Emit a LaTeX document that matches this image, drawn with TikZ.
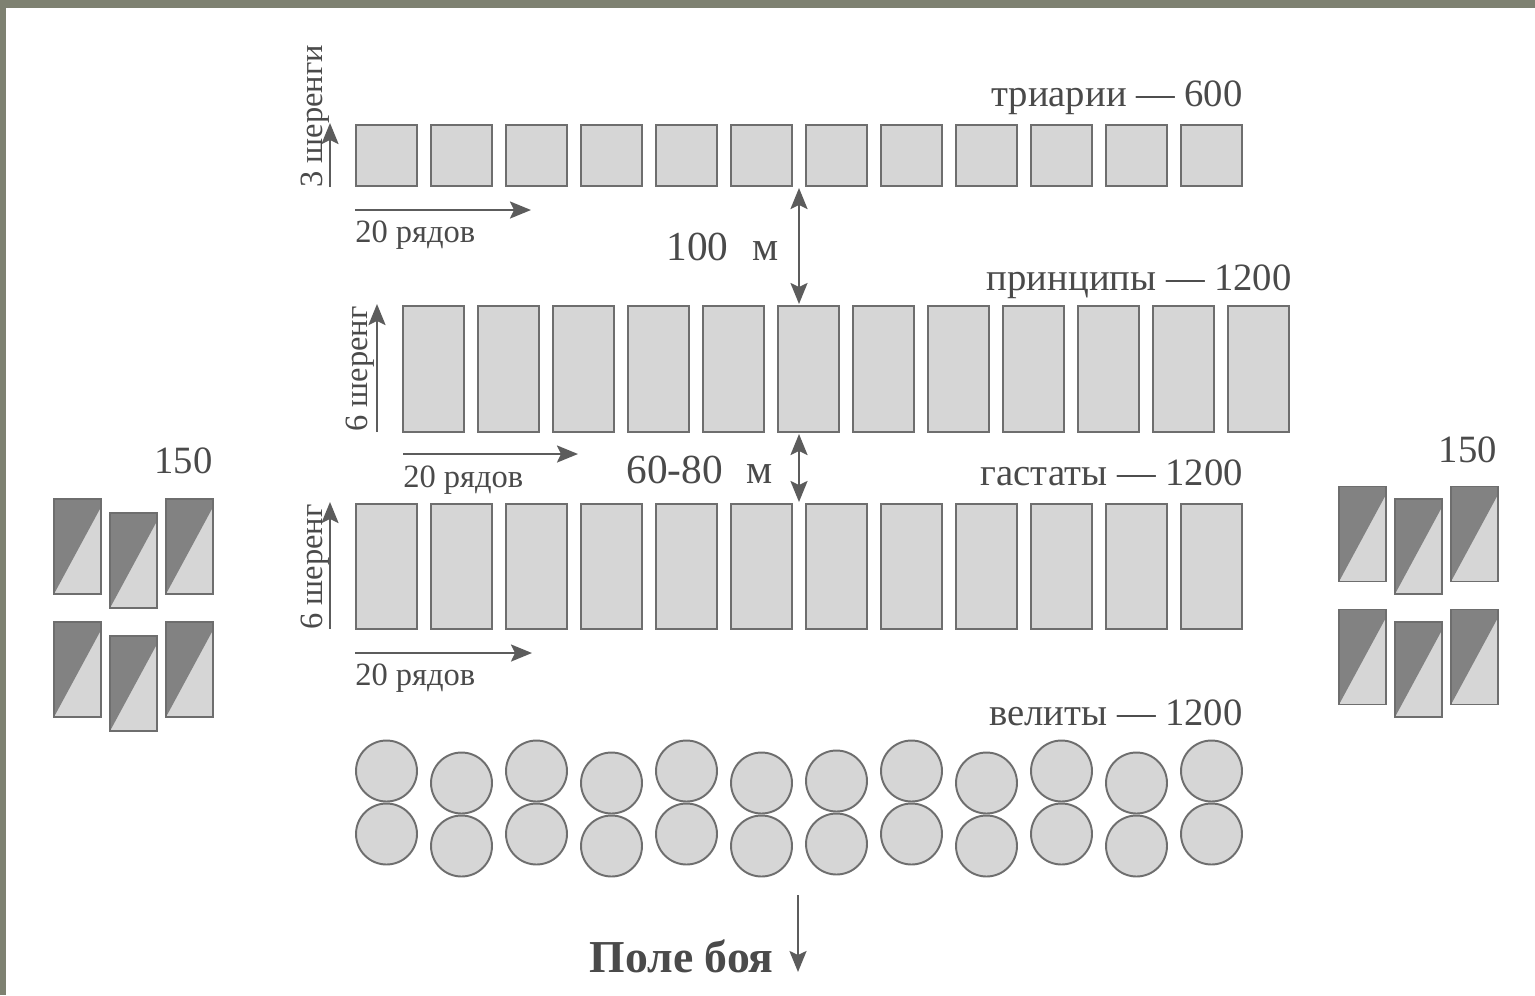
\documentclass[tikz,border=0pt]{standalone}
\usepackage{fontspec}
\setmainfont{Liberation Serif}
\usetikzlibrary{arrows.meta}
\usetikzlibrary{positioning}
\definecolor{boxfill}{HTML}{D6D6D6}
\definecolor{boxline}{HTML}{6E6E6E}
\definecolor{cavdark}{HTML}{828282}
\definecolor{framegray}{HTML}{7E8171}
\definecolor{inkgray}{HTML}{4A4A4A}
\definecolor{arrowgray}{HTML}{5C5C5C}

\begin{document}
\begin{tikzpicture}[x=0.02cm,y=-0.02cm,>={Stealth[length=0.42cm,width=0.34cm,inset=0.08cm]},
  unit/.style={rectangle,draw=boxline,fill=boxfill,line width=1.1pt,inner sep=0pt,minimum width=1.23cm},
  velit/.style={circle,draw=boxline,fill=boxfill,line width=1.1pt,inner sep=0pt,minimum size=1.22cm},
  horse/.style={rectangle,draw=boxline,fill=boxfill,line width=1.1pt,inner sep=0pt,
    minimum width=0.94cm,minimum height=1.9cm,
    path picture={\fill[cavdark] (path picture bounding box.south west) -- (path picture bounding box.north west)
      -- (path picture bounding box.north east) -- ([yshift=-0.16cm]path picture bounding box.north east) -- cycle;}},
  title/.style={font=\fontsize{22}{26}\selectfont,text=inkgray,inner sep=0pt,anchor=base east},
  dist/.style={font=\fontsize{23.5}{28}\selectfont,text=inkgray,inner sep=0pt,anchor=base west},
  small/.style={font=\fontsize{18.5}{22}\selectfont,text=inkgray,inner sep=0pt,anchor=base west},
  arr/.style={->,draw=arrowgray,fill=arrowgray,line width=1.3pt}]

  % frame
  \fill[framegray] (0,0) rectangle (1535,995);
  \fill[white] (6,8) rectangle (1535,995);
  \useasboundingbox (0,0) rectangle (1535,995);

  % triarii
  \foreach \c in {1,...,12}{
    \node[unit,minimum height=1.23cm] (t\c) at ({311.5+75*\c},155.5) {};
  }
  % principes
  \foreach \c in {1,...,12}{
    \node[unit,minimum height=2.52cm] (p\c) at ({358.5+75*\c},369) {};
  }
  % hastati
  \foreach \c in {1,...,12}{
    \node[unit,minimum height=2.5cm] (h\c) at ({311.5+75*\c},566.5) {};
  }
  % velites
  \foreach \c/\dy in {1/0,2/12,3/0,4/12,5/0,6/12,7/10,8/0,9/12,10/0,11/12,12/0}{
    \node[velit] (vu\c) at ({311.5+75*\c},{771+\dy}) {};
    \node[velit] (vd\c) at ({311.5+75*\c},{834+\dy}) {};
  }

  % cavalry
  \foreach \x/\dy [count=\c] in {77.5/0,133.5/14,189.5/0}{
    \node[horse] (la\c) at (\x,{546.5+\dy}) {};
    \node[horse] (lb\c) at (\x,{669.5+\dy}) {};
  }
  \foreach \x/\dy [count=\c] in {1362.5/0,1418.5/12.5,1474.5/0}{
    \node[horse] (ra\c) at (\x,{534+\dy}) {};
    \node[horse] (rb\c) at (\x,{657+\dy}) {};
  }
  \node[title] (lcav) at (213,473) {150};
  \node[title] (rcav) at (1497,462) {150};

  % row titles
  \node[title] (ttri) at (1243,106) {триарии — 600};
  \node[title] (tpri) at (1292,290) {принципы — 1200};
  \node[title] (thas) at (1243,485) {гастаты — 1200};
  \node[title] (tvel) at (1243,725) {велиты — 1200};

  % ranks and files
  \coordinate (ta0) at (330,187);  \coordinate (ta1) at (330,123);
  \coordinate (tb0) at (355,210);  \coordinate (tb1) at (531,210);
  \coordinate (pa0) at (377,432);  \coordinate (pa1) at (377,304);
  \coordinate (pb0) at (403,454);  \coordinate (pb1) at (578,454);
  \coordinate (ha0) at (330,629);  \coordinate (ha1) at (330,502);
  \coordinate (hb0) at (355,653);  \coordinate (hb1) at (532,653);
  \draw[arr] (ta0) -- (ta1);
  \draw[arr] (tb0) -- (tb1);
  \draw[arr] (pa0) -- (pa1);
  \draw[arr] (pb0) -- (pb1);
  \draw[arr] (ha0) -- (ha1);
  \draw[arr] (hb0) -- (hb1);
  \node[small,rotate=90] (tr) at (322,188) {3 шеренги};
  \node[small,rotate=90] (pr) at (367,432) {6 шеренг};
  \node[small,rotate=90] (hr) at (322,630) {6 шеренг};
  \node[small] (tf) at (355,242) {20 рядов};
  \node[small] (pf) at (403,487) {20 рядов};
  \node[small] (hf) at (355,685) {20 рядов};

  % distances
  \coordinate (d1) at (799,188);  \coordinate (d2) at (799,304);
  \coordinate (d3) at (799,434);  \coordinate (d4) at (799,502);
  \draw[arr,<->] (d1) -- (d2);
  \draw[arr,<->] (d3) -- (d4);
  \node[dist] (m100) at (666,260) {100\,\, м};
  \node[dist] (m60) at (626,483) {60-80\,\, м};

  % field
  \coordinate (f0) at (798,895);  \coordinate (f1) at (798,972);
  \draw[arr] (f0) -- (f1);
  \node[title,font=\fontsize{26}{30}\selectfont\bfseries] (field) at (774,972) {Поле боя};
\end{tikzpicture}
\end{document}
